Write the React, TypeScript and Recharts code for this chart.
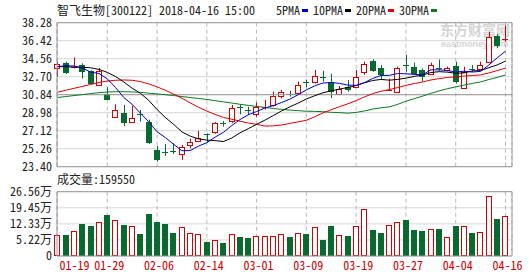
import React from "react";
import { ComposedChart, Bar, Line, XAxis, YAxis, CartesianGrid, ReferenceLine } from "recharts";

const dates = [
  "01-19", "01-22", "01-23", "01-24", "01-25", "01-26", "01-29", "01-30", "01-31", "02-01",
  "02-02", "02-05", "02-06", "02-07", "02-08", "02-09", "02-12", "02-13", "02-14", "02-22",
  "02-23", "02-26", "02-27", "02-28", "03-01", "03-02", "03-05", "03-06", "03-07", "03-08",
  "03-09", "03-12", "03-13", "03-14", "03-15", "03-16", "03-19", "03-20", "03-21", "03-22",
  "03-23", "03-26", "03-27", "03-28", "03-29", "03-30", "04-02", "04-03", "04-04", "04-09",
  "04-10", "04-11", "04-12", "04-13", "04-16",
];

const opens = [
  33.63, 34.15, 33.62, 33.9, 33.28, 31.85, 30.95, 28.5, 29.0, 27.98,
  28.82, 28.0, 25.13, 24.97, 25.05, 24.72, 25.62, 26.02, 26.8, 27.02,
  27.9, 28.12, 29.52, 29.3, 28.82, 29.48, 29.8, 30.75, 30.95, 30.98,
  32.2, 32.2, 32.65, 32.2, 30.92, 31.6, 31.68, 33.22, 34.35, 33.65,
  31.3, 31.15, 33.95, 33.75, 33.38, 33.0, 33.6, 33.38, 33.8, 31.55,
  33.52, 33.47, 34.2, 36.9, 36.5,
];
const highs = [
  34.22, 34.25, 34.7, 34.08, 33.35, 33.6, 31.6, 29.85, 29.78, 29.7,
  29.26, 28.25, 25.55, 25.75, 25.82, 25.64, 26.29, 27.1, 26.85, 28.0,
  28.12, 29.78, 29.85, 29.6, 30.05, 30.3, 31.15, 31.35, 31.26, 32.2,
  32.36, 33.4, 33.32, 33.0, 31.74, 32.35, 33.4, 34.25, 34.5, 33.9,
  32.5, 33.75, 34.95, 34.15, 33.55, 34.15, 34.49, 33.75, 34.25, 33.74,
  33.9, 34.25, 37.35, 37.1, 37.95,
];
const lows = [
  32.67, 32.98, 33.55, 32.5, 31.9, 31.85, 30.28, 28.48, 27.6, 27.95,
  28.05, 25.75, 23.92, 24.51, 24.71, 24.1, 25.3, 25.95, 25.95, 26.8,
  27.54, 27.9, 28.81, 28.75, 28.57, 29.3, 29.6, 30.45, 30.64, 30.9,
  31.6, 32.0, 32.19, 30.5, 30.8, 31.15, 31.6, 32.9, 33.2, 32.4,
  31.2, 31.05, 33.2, 32.9, 32.2, 32.9, 33.32, 33.25, 32.0, 31.5,
  33.2, 33.4, 34.1, 35.65, 36.3,
];
const closes = [
  33.98, 33.05, 33.72, 33.15, 31.95, 33.3, 30.3, 29.22, 27.92, 28.45,
  28.78, 25.85, 24.05, 24.93, 25.0, 25.4, 25.95, 26.35, 26.72, 27.88,
  27.85, 29.43, 29.47, 29.2, 29.57, 29.62, 30.7, 31.08, 30.91, 31.84,
  32.15, 32.75, 32.6, 31.15, 31.38, 31.28, 32.63, 34.0, 33.33, 32.9,
  31.35, 33.55, 33.88, 33.0, 32.7, 33.9, 33.55, 33.55, 32.2, 33.15,
  33.45, 33.9, 36.85, 35.9, 36.58,
];
// volume in 万 (10k)
const volumes = [
  7.2, 7.2, 9.0, 12.2, 11.4, 13.0, 16.2, 13.9, 11.7, 11.3,
  7.8, 16.7, 13.1, 12.2, 8.2, 10.9, 8.2, 7.8, 4.3, 5.1,
  3.7, 7.8, 6.4, 6.1, 6.8, 7.0, 7.0, 7.9, 6.5, 8.3,
  7.9, 10.9, 5.2, 11.4, 7.4, 7.0, 11.4, 18.9, 9.6, 8.3,
  11.8, 13.2, 14.0, 9.6, 9.2, 10.1, 10.1, 6.5, 11.4, 11.4,
  8.3, 8.7, 24.7, 14.5, 15.96,
];

const ma5 = [
  33.74, 33.84, 33.8, 33.6, 33.17, 33.03, 32.48, 31.58, 30.54, 29.84,
  28.93, 28.04, 27.01, 26.41, 25.72, 25.05, 25.07, 25.53, 25.88, 26.46,
  26.95, 27.65, 28.27, 28.77, 29.1, 29.46, 29.71, 30.03, 30.38, 30.83,
  31.34, 31.75, 32.05, 32.1, 32.01, 31.83, 31.81, 32.09, 32.52, 32.83,
  32.84, 33.03, 33.0, 32.94, 32.9, 33.41, 33.41, 33.34, 33.18, 33.27,
  33.18, 33.25, 33.91, 34.65, 35.34,
];
const ma10 = [
  33.75, 33.72, 33.7, 33.68, 33.62, 33.45, 33.15, 32.72, 32.15, 31.51,
  30.98, 30.26, 29.3, 28.48, 27.78, 26.99, 26.56, 26.27, 26.15, 26.09,
  26.0, 26.36, 26.9, 27.33, 27.78, 28.21, 28.68, 29.15, 29.58, 29.97,
  30.4, 30.73, 31.04, 31.24, 31.42, 31.59, 31.78, 32.07, 32.31, 32.42,
  32.34, 32.42, 32.55, 32.73, 32.87, 33.13, 33.22, 33.17, 33.06, 33.09,
  33.3, 33.33, 33.63, 33.92, 34.31,
];
const ma20 = [
  31.09, 31.3, 31.5, 31.7, 31.9, 32.1, 32.25, 32.33, 32.36, 32.33,
  32.2, 31.95, 31.65, 31.3, 30.9, 30.47, 30.0, 29.55, 29.15, 28.8,
  28.49, 28.31, 28.1, 27.91, 27.78, 27.6, 27.62, 27.71, 27.87, 28.03,
  28.2, 28.55, 28.97, 29.29, 29.6, 29.9, 30.23, 30.61, 30.95, 31.2,
  31.37, 31.58, 31.8, 31.99, 32.15, 32.36, 32.5, 32.62, 32.69, 32.76,
  32.82, 32.88, 33.09, 33.33, 33.59,
];
const ma30 = [
  30.55, 30.65, 30.75, 30.85, 30.95, 31.05, 31.12, 31.15, 31.15, 31.13,
  31.08, 31.0, 30.92, 30.84, 30.75, 30.65, 30.55, 30.45, 30.35, 30.22,
  30.1, 29.98, 29.85, 29.74, 29.63, 29.52, 29.42, 29.32, 29.25, 29.19,
  29.13, 29.12, 29.08, 29.02, 28.99, 28.93, 29.01, 29.16, 29.35, 29.49,
  29.58, 29.84, 30.16, 30.43, 30.69, 30.98, 31.23, 31.46, 31.65, 31.83,
  32.01, 32.16, 32.41, 32.63, 32.87,
];

const priceTicks = [23.4, 25.26, 27.12, 28.98, 30.84, 32.7, 34.56, 36.42, 38.28];
const volumeTicks = [-1.89, 5.22, 12.33, 19.45, 26.56];
const dateTicks = ["01-19", "01-29", "02-06", "02-14", "03-01", "03-09", "03-19", "03-27", "04-04", "04-16"];

const RED = "#d20000";
const GREEN = "#086a2e";
const FRAME = "#999";
const FONT = "'Noto Sans Mono CJK SC', 'Liberation Mono', monospace";
const xPad = { left: -3.65, right: 2.37 };

const rows = dates.map((date, i) => ({
  date,
  open: opens[i],
  high: highs[i],
  low: lows[i],
  close: closes[i],
  range: [lows[i], highs[i]],
  volume: volumes[i],
  ma5: ma5[i],
  ma10: ma10[i],
  ma20: ma20[i],
  ma30: ma30[i],
}));

function Candle(props: any) {
  const { x, y, width, height, payload } = props;
  if (!payload || !height) return null;
  const { open, close, high, low } = payload;
  const up = close >= open;
  const color = up ? RED : GREEN;
  const k = height / (high - low);
  const py = (v: number) => y + (high - v) * k;
  const left = Math.round(x);
  const w = Math.round(width);
  const mid = left + Math.floor(w / 2) + 0.5;
  const top = Math.round(py(Math.max(open, close)));
  const bottom = Math.round(py(Math.min(open, close)));
  const bodyH = bottom - top;
  return (
    <g>
      <line x1={mid} x2={mid} y1={py(high)} y2={py(low)} stroke={color} />
      {bodyH < 2 ? (
        <line x1={left} x2={left + w} y1={top + 0.5} y2={top + 0.5} stroke={color} />
      ) : up ? (
        <rect x={left + 0.5} y={top + 0.5} width={w - 1} height={bodyH} fill="#fff" stroke={color} />
      ) : (
        <rect x={left} y={top} width={w} height={bodyH} fill={color} />
      )}
    </g>
  );
}

function VolumeBar(props: any) {
  const { x, y, width, height, payload, background } = props;
  if (!payload) return null;
  const floor = background ? background.y + background.height : y + height;
  const up = payload.close >= payload.open;
  const left = Math.round(x);
  const w = Math.round(width);
  const top = Math.round(y);
  if (up) {
    return <rect x={left + 0.5} y={top + 0.5} width={w - 1} height={floor - top - 1} fill="#fff" stroke={RED} />;
  }
  return <rect x={left} y={top} width={w} height={floor - top} fill={GREEN} />;
}

function DateTick(props: any) {
  const { x, y, payload } = props;
  const first = payload.value === dates[0];
  return (
    <text x={x + 2} y={y} dy={11} textAnchor={first ? "start" : "middle"} fill="#cc0000" fontSize={12} fontFamily={FONT}>
      {payload.value}
    </text>
  );
}

const tickStyle = { fill: "#222", fontSize: 12, fontFamily: FONT };

const legend = [
  { name: "5PMA", color: "#0000c8" },
  { name: "10PMA", color: "#000" },
  { name: "20PMA", color: "#e00000" },
  { name: "30PMA", color: "#0a7a1e" },
];

export default function App() {
  return (
    <div style={{ position: "fixed", left: 0, top: 0, width: 530, height: 276, background: "#fff", overflow: "hidden", fontFamily: FONT, fontSize: 12, color: "#222" }}>
      <div style={{ position: "absolute", left: 57, top: 2, lineHeight: "16px", whiteSpace: "pre" }}>智飞生物[300122] 2018-04-16 15:00</div>
      <div style={{ position: "absolute", left: 276, top: 2, lineHeight: "16px", display: "flex", alignItems: "center" }}>
        {legend.map((l) => (
          <span key={l.name} style={{ display: "flex", alignItems: "center" }}>
            <span>{l.name}</span>
            <span style={{ display: "inline-block", width: 6, height: 3, background: l.color, marginLeft: 2, marginRight: 5 }} />
          </span>
        ))}
      </div>
      <div style={{ position: "absolute", left: 440, top: 22, color: "#d4d4d4", fontWeight: 700, fontSize: 14, lineHeight: "14px", fontFamily: "'Noto Sans CJK SC', sans-serif" }}>东方财富网</div>
      <div style={{ position: "absolute", left: 441, top: 40, color: "#d4d4d4", fontWeight: 700, fontSize: 9, lineHeight: "9px", fontFamily: "'Liberation Sans', sans-serif" }}>eastmoney.com</div>
      <div style={{ position: "absolute", left: 57, top: 171, lineHeight: "16px", whiteSpace: "pre" }}>成交量:159550</div>

      <div style={{ position: "absolute", left: 0, top: 0 }}>
        <ComposedChart width={530} height={176} data={rows} margin={{ top: 22.7, right: 0, bottom: 9.3, left: 0 }}>
          <CartesianGrid yAxisId="p" vertical={false} stroke="#d6d6d6" />
          <CartesianGrid yAxisId="p" horizontal={false} stroke="#bbb" strokeDasharray="4 3" />
          <XAxis dataKey="date" ticks={dateTicks} interval={0} hide padding={xPad} />
          <YAxis
            yAxisId="p"
            domain={[23.4, 38.28]}
            ticks={priceTicks}
            interval={0}
            width={57}
            tickSize={3}
            tickMargin={2}
            tickLine={false}
            axisLine={{ stroke: FRAME }}
            tick={tickStyle}
            tickFormatter={(v: number) => v.toFixed(2)}
          />
          <YAxis yAxisId="r" orientation="right" domain={[23.4, 38.28]} width={18} tick={false} tickLine={false} axisLine={{ stroke: FRAME }} />
          <ReferenceLine yAxisId="p" y={30.84} stroke={FRAME} />
          <ReferenceLine yAxisId="p" y={38.28} stroke={FRAME} />
          <ReferenceLine yAxisId="p" y={23.4} stroke={FRAME} />
          <Bar yAxisId="p" dataKey="range" barSize={6} shape={(p: any) => <Candle {...p} />} isAnimationActive={false} />
          <Line yAxisId="p" type="linear" dataKey="ma30" stroke="#0a7a1e" strokeWidth={1} dot={false} activeDot={false} isAnimationActive={false} />
          <Line yAxisId="p" type="linear" dataKey="ma20" stroke="#e00000" strokeWidth={1} dot={false} activeDot={false} isAnimationActive={false} />
          <Line yAxisId="p" type="linear" dataKey="ma10" stroke="#000" strokeWidth={1} dot={false} activeDot={false} isAnimationActive={false} />
          <Line yAxisId="p" type="linear" dataKey="ma5" stroke="#0000c8" strokeWidth={1} dot={false} activeDot={false} isAnimationActive={false} />
        </ComposedChart>
      </div>

      <div style={{ position: "absolute", left: 0, top: 170 }}>
        <ComposedChart width={530} height={106} data={rows} margin={{ top: 21.7, right: 0, bottom: 0, left: 0 }}>
          <CartesianGrid yAxisId="v" vertical={false} stroke="#d6d6d6" />
          <CartesianGrid yAxisId="v" horizontal={false} stroke="#bbb" strokeDasharray="4 3" />
          <XAxis
            dataKey="date"
            ticks={dateTicks}
            interval={0}
            height={20}
            tickLine={false}
            axisLine={false}
            tickSize={0}
            tickMargin={3}
            tick={(p: any) => <DateTick {...p} />}
            padding={xPad}
          />
          <YAxis
            yAxisId="v"
            domain={[-1.89, 26.56]}
            ticks={volumeTicks}
            interval={0}
            width={57}
            tickSize={3}
            tickMargin={2}
            tickLine={false}
            axisLine={{ stroke: FRAME }}
            tick={tickStyle}
            tickFormatter={(v: number) => (v < 0 ? "0" : v.toFixed(2) + "万")}
          />
          <YAxis yAxisId="r" orientation="right" domain={[-1.89, 26.56]} width={18} tick={false} tickLine={false} axisLine={{ stroke: FRAME }} />
          <ReferenceLine yAxisId="v" y={26.56} stroke={FRAME} />
          <ReferenceLine yAxisId="v" y={-1.89} stroke={FRAME} />
          <Bar yAxisId="v" dataKey="volume" barSize={6} shape={(p: any) => <VolumeBar {...p} />} isAnimationActive={false} />
        </ComposedChart>
      </div>
    </div>
  );
}
